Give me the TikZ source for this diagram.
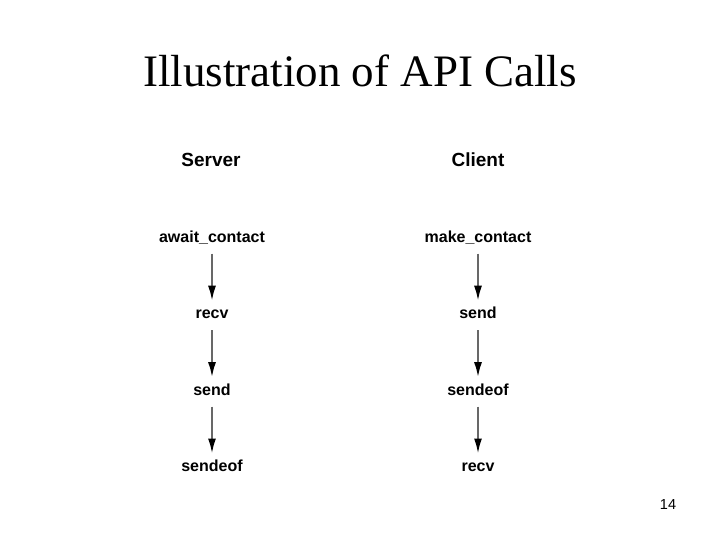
\documentclass[tikz,border=0pt]{standalone}
\usepackage{fontspec}
\setmainfont{Liberation Serif}
\setsansfont{Liberation Sans}
\usepackage{tikz}
\usetikzlibrary{arrows.meta,positioning}
\definecolor{inkgray}{HTML}{686868}

\begin{document}
\begin{tikzpicture}[x=1pt, y=-1pt, node distance=57pt, every node/.style={inner sep=0pt}, head/.style={font=\sffamily\bfseries\fontsize{19}{22}\selectfont}, call/.style={font=\sffamily\bfseries\fontsize{16}{19}\selectfont,text height=12pt,text depth=3pt,inner ysep=2pt}, arr/.style={-{Latex[length=16pt,width=8pt,color=black]},line width=2.6pt,draw=inkgray,shorten <=6pt,shorten >=3pt}]
\useasboundingbox (0,0) rectangle (720,540);
\node[anchor=base,font=\fontsize{45}{54}\selectfont] (title) at (360,87) {Illustration of API Calls};
\node[head] (server) at (211,160) {Server};
\node[head] (client) at (478,160) {Client};
\node[call] (await) at (212,238) {await\_contact};
\node[call,below=of await] (srecv) {recv};
\node[call,below=of srecv] (ssend) {send};
\node[call,below=of ssend] (seof) {sendeof};
\node[call] (make) at (478,238) {make\_contact};
\node[call,below=of make] (csend) {send};
\node[call,below=of csend] (ceof) {sendeof};
\node[call,below=of ceof] (crecv) {recv};
\draw[arr] (await) -- (srecv);
\draw[arr] (srecv) -- (ssend);
\draw[arr] (ssend) -- (seof);
\draw[arr] (make) -- (csend);
\draw[arr] (csend) -- (ceof);
\draw[arr] (ceof) -- (crecv);
\node[anchor=base,font=\sffamily\fontsize{14.5}{17}\selectfont] (page) at (668,509) {14};
\end{tikzpicture}
\end{document}
